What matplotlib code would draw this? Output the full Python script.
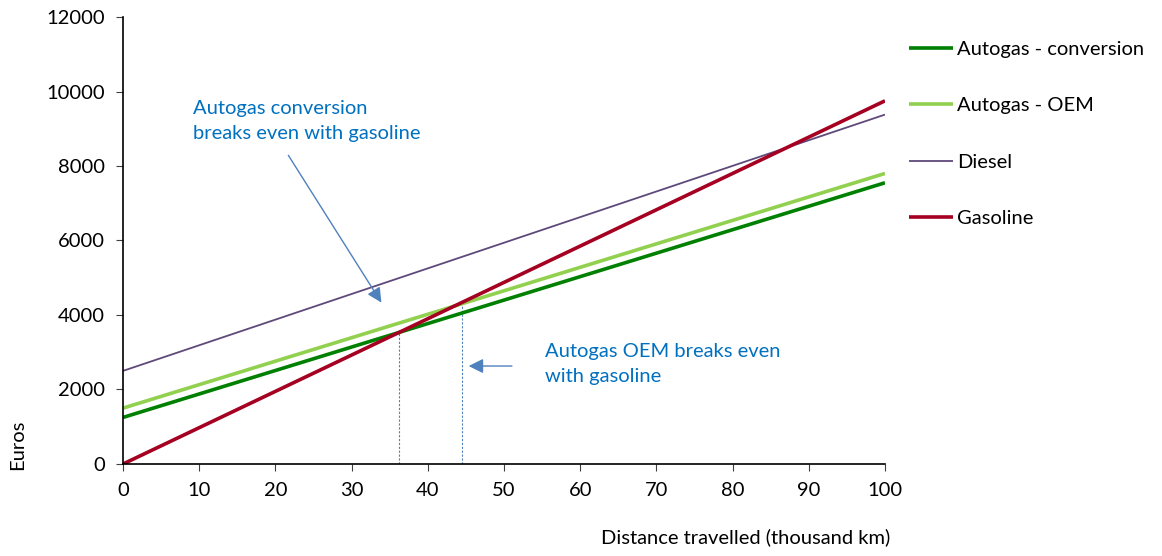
import matplotlib
matplotlib.use('Agg')
import matplotlib.pyplot as plt

plt.rcParams['font.family'] = ['Lato', 'DejaVu Sans']

# data (distance in thousand km, cost in euros)
distance = [0, 100]
autogas_conversion = [1250, 7550]
autogas_oem = [1500, 7800]
diesel = [2500, 9380]
gasoline = [0, 9750]

series_names = ['Autogas - conversion', 'Autogas - OEM', 'Diesel', 'Gasoline']
series_colors = ['#008000', '#92D050', '#5F497A', '#A50021']
series_widths = [2.6, 2.6, 1.3, 2.6]

breakeven_x = [36.2, 44.5]
x_ticks = list(range(0, 101, 10))
y_ticks = list(range(0, 12001, 2000))

FS = 14.5

fig = plt.figure(figsize=(11.62, 5.56), dpi=100)
ax = fig.add_axes([0.1059, 0.1655, 0.6557, 0.8039])

handles = []
for vals, name, col, lw in zip([autogas_conversion, autogas_oem, diesel, gasoline],
                               series_names, series_colors, series_widths):
    h, = ax.plot(distance, vals, color=col, lw=lw, label=name, solid_capstyle='butt')
    handles.append(h)

# dotted drop lines at the break-even points
slope_g = (gasoline[1] - gasoline[0]) / (distance[1] - distance[0])
for bx in breakeven_x:
    ax.plot([bx, bx], [0, gasoline[0] + slope_g * bx], color='#4F81BD',
            lw=0.8, linestyle=(0, (2, 1.5)), zorder=1)

ax.set_xlim(0, 100)
ax.set_ylim(0, 12000)
ax.set_xticks(x_ticks)
ax.set_yticks(y_ticks)
ax.tick_params(labelsize=FS, length=5, direction='out', pad=8, color='#404040')
for s in ['top', 'right']:
    ax.spines[s].set_visible(False)
for s in ['left', 'bottom']:
    ax.spines[s].set_color('#000000')
    ax.spines[s].set_linewidth(1.2)

fig.text(0.766, 0.034, 'Distance travelled (thousand km)', ha='right', va='center', fontsize=FS)
fig.text(0.015, 0.2, 'Euros', rotation=90, ha='center', va='center', fontsize=FS)

# annotations
ax.annotate('', xy=(34.1, 4270), xytext=(21.5, 8350),
            arrowprops=dict(arrowstyle='-|>', color='#4F81BD', lw=1, mutation_scale=22))
ax.text(9.2, 9760, 'Autogas conversion\nbreaks even with gasoline', color='#0070C0',
        fontsize=FS, va='top', ha='left', linespacing=1.55)
ax.annotate('', xy=(45.0, 2630), xytext=(51.4, 2630),
            arrowprops=dict(arrowstyle='-|>', color='#4F81BD', lw=1, mutation_scale=22))
ax.text(55.4, 3240, 'Autogas OEM breaks even\nwith gasoline', color='#0070C0',
        fontsize=FS, va='top', ha='left', linespacing=1.55)

fig.legend(handles=handles, loc='upper left', bbox_to_anchor=(0.775, 0.941),
           frameon=False, fontsize=FS, handlelength=2.2, handletextpad=0.2,
           labelspacing=1.95, borderaxespad=0)

fig.savefig('out.png', dpi=100)
